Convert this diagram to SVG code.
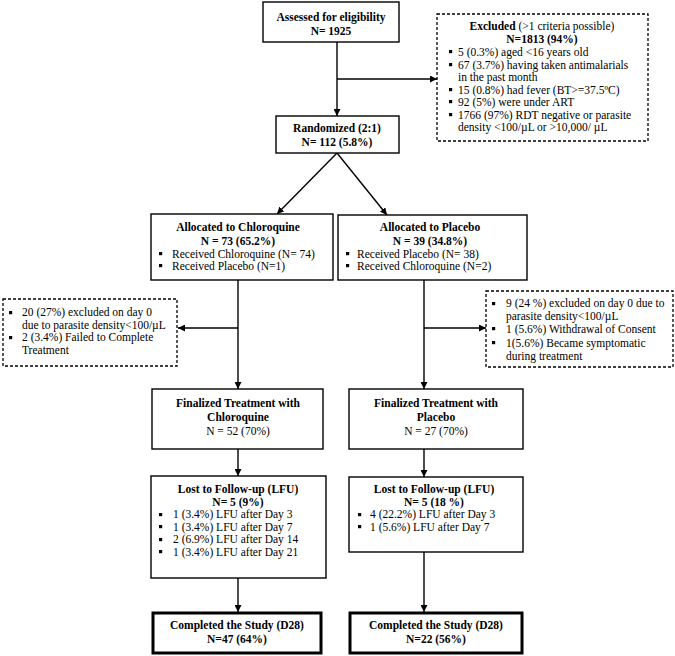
<svg xmlns="http://www.w3.org/2000/svg" width="675" height="656" viewBox="0 0 675 656">
<style>
text{font-family:"Liberation Serif","Times New Roman",serif;font-size:11.5px;fill:#000}
.t{font-weight:bold}
.c{text-anchor:middle}
.box{fill:#fff;stroke:#000;stroke-width:1.4}
.thick{fill:#fff;stroke:#000;stroke-width:3}
.dash{fill:#fff;stroke:#000;stroke-width:1.3;stroke-dasharray:3 2}
.ln{stroke:#000;stroke-width:1.4;fill:none;marker-end:url(#ah)}
.b{fill:#000}
</style>
<defs>
<marker id="ah" viewBox="0 0 10 10" refX="10" refY="5" markerWidth="7" markerHeight="7" markerUnits="userSpaceOnUse" orient="auto">
<path d="M0,0 L10,5 L0,10 z" fill="#000"/>
</marker>
<rect id="bu" width="3.2" height="3.2"/>
</defs>
<rect width="675" height="656" fill="#fff"/>
<g id="connectors">
<path class="ln" d="M337,42 V116"/>
<path class="ln" d="M337,79 H437"/>
<path class="ln" d="M337,153 L277,214"/>
<path class="ln" d="M337,153 L387,215"/>
<path class="ln" d="M238,280 V389"/>
<path class="ln" d="M238,328 H178"/>
<path class="ln" d="M424,280 V389"/>
<path class="ln" d="M424,328 H486"/>
<path class="ln" d="M238,449 V476"/>
<path class="ln" d="M424,449 V477"/>
<path class="ln" d="M238,578 V612"/>
<path class="ln" d="M424,552 V612"/>
</g>
<g id="assessed">
<rect class="box" x="263" y="2" width="136" height="40"/>
<text class="t c" x="331" y="21">Assessed for eligibility</text>
<text class="t c" x="331" y="35">N= 1925</text>
</g>
<g id="excluded">
<rect class="dash" x="437" y="14" width="211" height="127"/>
<text class="c" x="542" y="30"><tspan class="t">Excluded</tspan> (&gt;1 criteria possible)</text>
<text class="t c" x="542" y="43">N=1813 (94%)</text>
<g class="b"><use href="#bu" x="449" y="50"/><use href="#bu" x="449" y="63"/><use href="#bu" x="449" y="88"/><use href="#bu" x="449" y="100"/><use href="#bu" x="449" y="113"/></g>
<text x="458" y="56">5 (0.3%) aged &lt;16 years old</text>
<text x="458" y="69">67 (3.7%) having taken antimalarials</text>
<text x="458" y="81">in the past month</text>
<text x="458" y="94">15 (0.8%) had fever (BT&gt;=37.5ºC)</text>
<text x="458" y="106">92 (5%) were under ART</text>
<text x="458" y="119">1766 (97%) RDT negative or parasite</text>
<text x="458" y="131">density &lt;100/µL or &gt;10,000/ µL</text>
</g>
<g id="randomized">
<rect class="box" x="276" y="116" width="123" height="37"/>
<text class="t c" x="337" y="132">Randomized (2:1)</text>
<text class="t c" x="337" y="146">N= 112 (5.8%)</text>
</g>
<g id="alloc-cq">
<rect class="box" x="151" y="214" width="182" height="66"/>
<text class="t c" x="238" y="231">Allocated to Chloroquine</text>
<text class="t c" x="238" y="245">N = 73 (65.2%)</text>
<g class="b"><use href="#bu" x="159" y="252"/><use href="#bu" x="159" y="264"/></g>
<text x="172" y="258">Received Chloroquine (N= 74)</text>
<text x="172" y="270">Received Placebo (N=1)</text>
</g>
<g id="alloc-pl">
<rect class="box" x="338" y="215" width="189" height="65"/>
<text class="t c" x="430" y="231">Allocated to Placebo</text>
<text class="t c" x="430" y="245">N = 39 (34.8%)</text>
<g class="b"><use href="#bu" x="346" y="252"/><use href="#bu" x="346" y="264"/></g>
<text x="357" y="258">Received Placebo (N= 38)</text>
<text x="357" y="270">Received Chloroquine (N=2)</text>
</g>
<g id="excl-cq">
<rect class="dash" x="3" y="299" width="174" height="67"/>
<g class="b"><use href="#bu" x="9" y="311"/><use href="#bu" x="9" y="336"/></g>
<text x="22" y="316">20 (27%) excluded on day 0</text>
<text x="22" y="329">due to parasite density&lt;100/µL</text>
<text x="22" y="341">2 (3.4%) Failed to Complete</text>
<text x="22" y="354">Treatment</text>
</g>
<g id="excl-pl">
<rect class="dash" x="486" y="291" width="187" height="76"/>
<g class="b"><use href="#bu" x="492" y="302"/><use href="#bu" x="492" y="327"/><use href="#bu" x="492" y="341"/></g>
<text x="506" y="307">9 (24 %) excluded on day 0 due to</text>
<text x="506" y="320">parasite density&lt;100/µL</text>
<text x="506" y="333">1 (5.6%) Withdrawal of Consent</text>
<text x="506" y="347">1(5.6%) Became symptomatic</text>
<text x="506" y="360">during treatment</text>
</g>
<g id="final-cq">
<rect class="box" x="152" y="389" width="171" height="60"/>
<text class="t c" x="238" y="407">Finalized Treatment with</text>
<text class="t c" x="238" y="421">Chloroquine</text>
<text class="c" x="238" y="435">N = 52 (70%)</text>
</g>
<g id="final-pl">
<rect class="box" x="349" y="389" width="174" height="60"/>
<text class="t c" x="436" y="407">Finalized Treatment with</text>
<text class="t c" x="436" y="421">Placebo</text>
<text class="c" x="436" y="435">N = 27 (70%)</text>
</g>
<g id="lfu-cq">
<rect class="box" x="151" y="476" width="175" height="102"/>
<text class="t c" x="238" y="493">Lost to Follow-up (LFU)</text>
<text class="t c" x="238" y="506">N= 5 (9%)</text>
<g class="b"><use href="#bu" x="159" y="513"/><use href="#bu" x="159" y="525"/><use href="#bu" x="159" y="538"/><use href="#bu" x="159" y="550"/></g>
<text x="173" y="518">1 (3.4%) LFU after Day 3</text>
<text x="173" y="531">1 (3.4%) LFU after Day 7</text>
<text x="173" y="543">2 (6.9%) LFU after Day 14</text>
<text x="173" y="556">1 (3.4%) LFU after Day 21</text>
</g>
<g id="lfu-pl">
<rect class="box" x="349" y="477" width="174" height="75"/>
<text class="t c" x="434" y="493">Lost to Follow-up (LFU)</text>
<text class="t c" x="434" y="506">N= 5 (18 %)</text>
<g class="b"><use href="#bu" x="358" y="513"/><use href="#bu" x="358" y="525"/></g>
<text x="370" y="518">4 (22.2%) LFU after Day 3</text>
<text x="370" y="531">1 (5.6%) LFU after Day 7</text>
</g>
<g id="done-cq">
<rect class="thick" x="153" y="613" width="168" height="40"/>
<text class="t c" x="237" y="629">Completed the Study (D28)</text>
<text class="t c" x="237" y="643">N=47 (64%)</text>
</g>
<g id="done-pl">
<rect class="thick" x="350" y="613" width="172" height="40"/>
<text class="t c" x="436" y="629">Completed the Study (D28)</text>
<text class="t c" x="436" y="643">N=22 (56%)</text>
</g>
</svg>
